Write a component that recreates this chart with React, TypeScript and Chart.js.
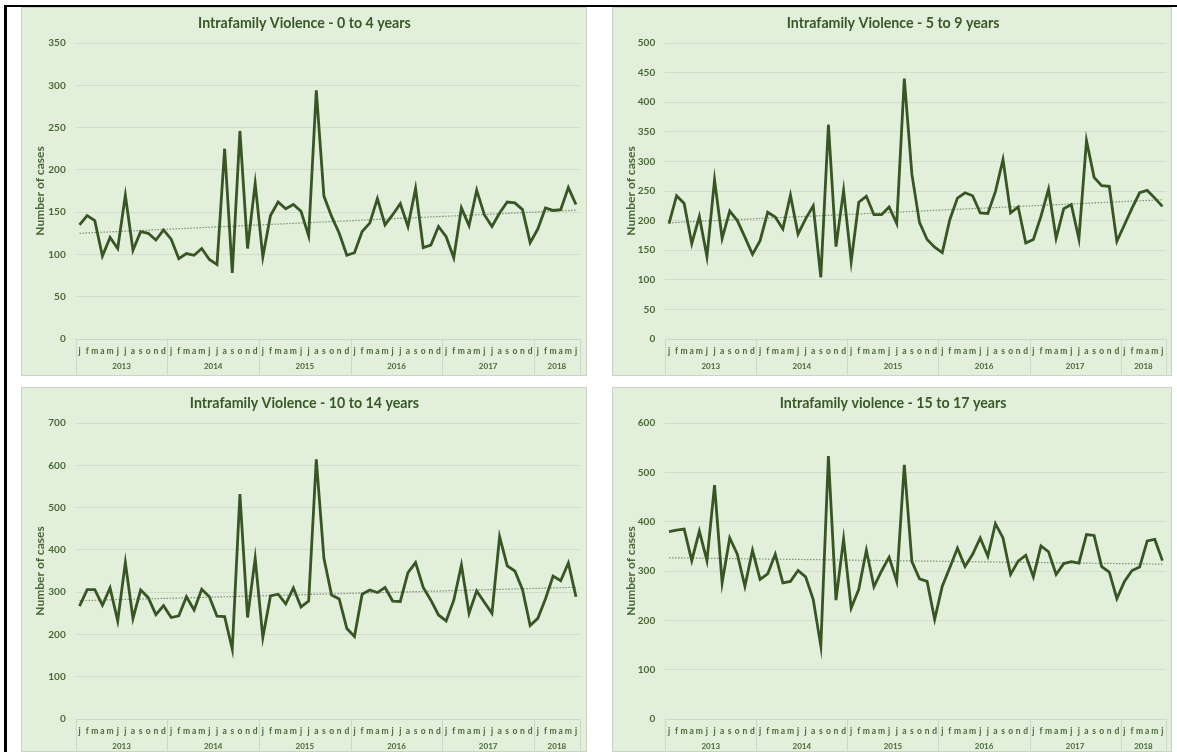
import React, { useEffect, useRef } from "react";
import { Chart, registerables } from "chart.js";

Chart.register(...registerables);

// ---------- data ----------
const monthLetters = ["j", "f", "m", "a", "m", "j", "j", "a", "s", "o", "n", "d"];
const years = ["2013", "2014", "2015", "2016", "2017", "2018"];
const monthsInYear = [12, 12, 12, 12, 12, 6];

const labels: string[] = [];
monthsInYear.forEach((n) => {
  for (let m = 0; m < n; m++) labels.push(monthLetters[m]);
});

const cases0to4 = [
  135, 146, 140, 98, 120, 107, 170, 105, 127, 125, 117, 129,
  118, 95, 101, 99, 107, 94, 88, 225, 78, 246, 107, 184,
  97, 146, 162, 154, 159, 151, 122, 294, 169, 145, 125, 99,
  102, 127, 137, 166, 135, 147, 160, 133, 178, 108, 111, 133,
  121, 96, 155, 134, 176, 147, 133, 149, 162, 161, 153, 114,
  130, 155, 152, 153, 179, 159,
];

const cases5to9 = [
  195, 242, 229, 161, 207, 139, 269, 170, 216, 200, 172, 143,
  166, 214, 206, 186, 243, 177, 203, 225, 104, 362, 156, 251,
  131, 231, 241, 210, 210, 223, 195, 440, 278, 197, 168, 155,
  146, 202, 238, 247, 242, 213, 212, 249, 303, 213, 223, 162,
  168, 207, 253, 170, 220, 227, 169, 335, 273, 259, 258, 165,
  193, 221, 247, 251, 238, 224,
];

const cases10to14 = [
  267, 306, 306, 269, 310, 232, 370, 238, 305, 287, 247, 268,
  240, 244, 289, 258, 307, 289, 243, 242, 165, 532, 240, 380,
  193, 291, 295, 272, 310, 265, 279, 614, 380, 293, 284, 214,
  195, 295, 305, 299, 311, 279, 278, 346, 370, 311, 281, 246,
  232, 281, 364, 250, 303, 276, 250, 431, 362, 350, 306, 221,
  238, 284, 338, 327, 369, 289,
];

const cases15to17 = [
  380, 383, 385, 321, 381, 321, 474, 276, 367, 334, 269, 342,
  283, 294, 334, 276, 279, 301, 288, 242, 148, 533, 241, 365,
  225, 263, 342, 268, 300, 328, 279, 515, 319, 284, 279, 202,
  269, 307, 346, 309, 334, 367, 330, 396, 367, 293, 320, 332,
  288, 351, 339, 293, 315, 319, 316, 374, 372, 309, 298, 244,
  279, 301, 308, 361, 364, 321,
];

const panelTitles = [
  "Intrafamily Violence - 0 to 4 years",
  "Intrafamily Violence - 5 to 9 years",
  "Intrafamily Violence - 10 to 14 years",
  "Intrafamily violence - 15 to 17 years",
];
const yMaxes = [350, 500, 700, 600];
const ySteps = [50, 50, 100, 100];
const yAxisTitle = "Number of cases";

// ---------- styles ----------
const FONT = "Lato, 'Open Sans', 'DejaVu Sans', sans-serif";
const BG = "#e2efda";
const LINE = "#375623";
const TITLE_COLOR = "#385827";
const TICK_COLOR = "#4a6836";
const GRID = "rgba(205,212,200,0.75)";
const AXIS = "#cfd6ca";
const TREND = "#7d8f72";

const PLOT_TOP = 36;
const PLOT_BOTTOM = 332;
const PAD_LEFT = 8;
const TITLE_SIZE = 14.2;

function linearTrend(values: number[]) {
  const n = values.length;
  let sx = 0, sy = 0, sxy = 0, sxx = 0;
  values.forEach((v, i) => {
    sx += i; sy += v; sxy += i * v; sxx += i * i;
  });
  const b = (n * sxy - sx * sy) / (n * sxx - sx * sx);
  const a = (sy - b * sx) / n;
  return values.map((_, i) => a + b * i);
}

const yearAxisPlugin = {
  id: "yearAxis",
  afterDraw(chart: any) {
    const x = chart.scales.x;
    const area = chart.chartArea;
    const ctx = chart.ctx as CanvasRenderingContext2D;
    ctx.save();
    ctx.strokeStyle = AXIS;
    ctx.lineWidth = 1;
    ctx.fillStyle = TICK_COLOR;
    ctx.font = `bold 8px ${FONT}`;
    ctx.textAlign = "center";
    ctx.textBaseline = "middle";
    let start = 0;
    const bottom = chart.height;
    monthsInYear.forEach((count, yi) => {
      const end = start + count - 1;
      const lp = start === 0 ? area.left : (x.getPixelForValue(start - 1) + x.getPixelForValue(start)) / 2;
      const rp = end === labels.length - 1 ? area.right : (x.getPixelForValue(end) + x.getPixelForValue(end + 1)) / 2;
      const drawV = (px: number) => {
        const p = Math.round(px) + 0.5;
        ctx.beginPath();
        ctx.moveTo(p, area.bottom);
        ctx.lineTo(p, bottom);
        ctx.stroke();
      };
      drawV(lp);
      if (end === labels.length - 1) drawV(rp);
      ctx.fillText(years[yi], (lp + rp) / 2, area.bottom + 27.5);
      start += count;
    });
    ctx.restore();
  },
};

type PanelProps = {
  left: number; top: number; width: number; height: number;
  plotLeft: number; plotRight: number;
  title: string; values: number[]; max: number; step: number;
};

function Panel(p: PanelProps) {
  const ref = useRef<HTMLCanvasElement>(null);
  useEffect(() => {
    const lh = TITLE_SIZE * 1.2;
    const chart = new Chart(ref.current!, {
      type: "line",
      data: {
        labels,
        datasets: [
          { data: p.values, borderColor: LINE, borderWidth: 2.8, pointRadius: 0, tension: 0, order: 0 },
          { data: linearTrend(p.values), borderColor: TREND, borderWidth: 1.2, borderDash: [1.5, 1.5], pointRadius: 0, order: 1 },
        ],
      } as any,
      options: {
        responsive: false,
        animation: false,
        devicePixelRatio: 1,
        layout: { padding: { left: PAD_LEFT, right: p.width - p.plotRight, top: 0, bottom: 0 } },
        plugins: {
          legend: { display: false },
          tooltip: { enabled: false },
          title: {
            display: true,
            text: p.title,
            color: TITLE_COLOR,
            font: { family: FONT, size: TITLE_SIZE, weight: "bold", lineHeight: 1.2 },
            padding: { top: 16 - lh / 2, bottom: PLOT_TOP - (16 - lh / 2) - lh },
          },
        },
        scales: {
          x: {
            type: "category",
            offset: true,
            grid: { display: false, drawTicks: false },
            border: { display: true, color: AXIS },
            ticks: {
              autoSkip: false, maxRotation: 0, minRotation: 0, padding: 7,
              color: TICK_COLOR, font: { family: FONT, size: 8.5, weight: "bold" },
            },
            afterFit: (s: any) => { s.height = p.height - PLOT_BOTTOM; },
          },
          y: {
            min: 0,
            max: p.max,
            ticks: { stepSize: p.step, padding: 10, color: TICK_COLOR, font: { family: FONT, size: 10, weight: "bold" } },
            grid: { color: GRID, drawTicks: false },
            border: { display: false },
            title: {
              display: true, text: yAxisTitle, color: TICK_COLOR,
              font: { family: FONT, size: 12, weight: "bold", lineHeight: 1.2 },
              padding: { top: 3.8, bottom: 0 },
            },
            afterFit: (s: any) => { s.width = p.plotLeft - PAD_LEFT; },
          },
        },
      } as any,
      plugins: [yearAxisPlugin],
    });
    return () => chart.destroy();
  }, []);
  return (
    <div
      style={{
        position: "absolute", left: p.left, top: p.top, width: p.width, height: p.height,
        background: BG, boxShadow: "inset 0 0 0 1px #cad4c4",
      }}
    >
      <canvas ref={ref} width={p.width} height={p.height} style={{ display: "block" }} />
    </div>
  );
}

export default function App() {
  const seriesList = [cases0to4, cases5to9, cases10to14, cases15to17];
  const layout = [
    { left: 21, top: 7, width: 566, height: 369, plotLeft: 54.7, plotRight: 558.8 },
    { left: 612, top: 7, width: 560, height: 369, plotLeft: 53.2, plotRight: 554.2 },
    { left: 21, top: 387, width: 566, height: 365, plotLeft: 54.7, plotRight: 558.8 },
    { left: 612, top: 387, width: 560, height: 365, plotLeft: 53.2, plotRight: 554.2 },
  ];
  return (
    <div style={{ position: "absolute", left: 0, top: 0, width: 1177, height: 752, background: "#fff", overflow: "hidden" }}>
      <div style={{ position: "absolute", left: 4, top: 5, width: 3, height: 747, background: "#000" }} />
      <div style={{ position: "absolute", left: 4, top: 5, width: 1173, height: 2, background: "#000" }} />
      {layout.map((l, i) => (
        <Panel key={i} {...l} title={panelTitles[i]} values={seriesList[i]} max={yMaxes[i]} step={ySteps[i]} />
      ))}
    </div>
  );
}
